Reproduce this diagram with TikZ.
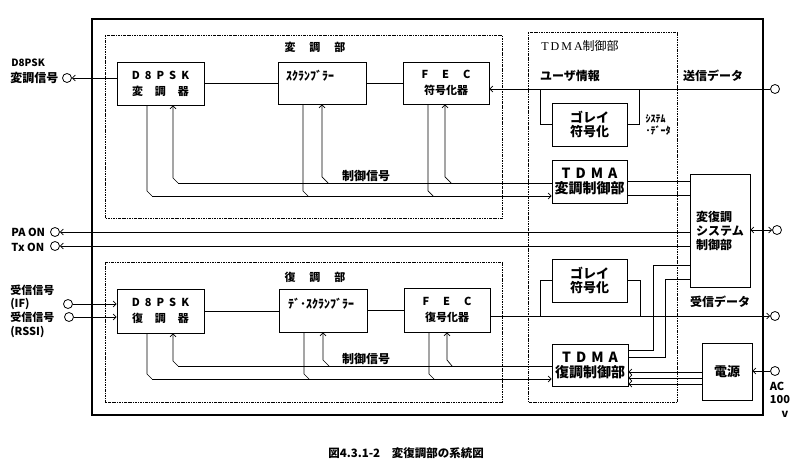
\documentclass[tikz,border=0pt]{standalone}
\usepackage{fontspec}
\setmainfont{Noto Sans CJK JP}
\newfontfamily\lserif{Liberation Serif}
\usetikzlibrary{arrows.meta}
\newcommand\ls{\hspace{5pt}}
\begin{document}
\begin{tikzpicture}[x=1pt,y=-1pt,line width=0.7pt,
  blk/.style={draw, line width=0.7pt, inner sep=0pt, align=center},
  frame/.style={draw, line width=0.6pt, dash pattern=on 2.5pt off 1pt on 0.8pt off 1pt},
  port/.style={circle, draw, line width=0.8pt, minimum size=9pt, inner sep=0pt},
  arr/.style={-{Straight Barb[length=3pt,width=6pt]}},
  arrb/.style={{Straight Barb[length=3pt,width=6pt]}-{Straight Barb[length=3pt,width=6pt]}},
  txt/.style={inner sep=0pt, font=\bfseries\fontsize{11}{13}\selectfont},
  bf11/.style={font=\bfseries\fontsize{11}{16}\selectfont},
  bf12/.style={font=\bfseries\fontsize{13}{14.5}\selectfont},
  bf14/.style={font=\bfseries\fontsize{14}{15}\selectfont},
]
\useasboundingbox (0,0) rectangle (800,465);

% outer frame and section frames
\draw[line width=2pt] (92,19) rectangle (763,415);
\draw[frame] (105,35) rectangle (502,218);
\draw[frame] (528,32) rectangle (677,402);
\draw[frame] (105,262) rectangle (502,402);

% modulation blocks
\node[blk, bf11, minimum width=87pt, minimum height=43pt] (mod) at (160.5,83.5) {D\ls 8\ls P\ls S\ls K\\変\hspace{12pt}調\hspace{12pt}器};
\node[blk, minimum width=88pt, minimum height=42pt] (scr) at (322,83) {};
\node[txt, font=\bfseries\fontsize{12}{14}\selectfont] (scrT) at (310,76) {ｽｸﾗﾝﾌﾞﾗｰ};
\node[blk, bf11, minimum width=86pt, minimum height=42pt] (fecE) at (446,83) {F\hspace{14pt}E\hspace{14pt}C\\符号化器};
\node[blk, bf12, minimum width=75pt, minimum height=43pt] (golayT) at (589.5,124.5) {ゴレイ\\符号化};
\node[blk, bf14, minimum width=75pt, minimum height=43pt] (tdmaM) at (589.5,181.5) {T\ls D\ls M\ls A\\変調制御部};
\node[blk, align=left, font=\bfseries\fontsize{12}{14}\selectfont, minimum width=60pt, minimum height=113pt] (sys) at (720,230.5) {変復調\\システム\\制御部};

% demodulation blocks
\node[blk, bf11, minimum width=87pt, minimum height=44pt] (demod) at (160.5,311) {D\ls 8\ls P\ls S\ls K\\復\hspace{12pt}調\hspace{12pt}器};
\node[blk, minimum width=88pt, minimum height=43pt] (dscr) at (323,310.5) {};
\node[txt, font=\bfseries\fontsize{12}{14}\selectfont] (dscrT) at (321,304) {ﾃﾞ･ｽｸﾗﾝﾌﾞﾗｰ};
\node[blk, bf11, minimum width=86pt, minimum height=44pt] (fecD) at (447,310) {F\hspace{14pt}E\hspace{14pt}C\\復号化器};
\node[blk, bf12, minimum width=75pt, minimum height=43pt] (golayR) at (589.5,280.5) {ゴレイ\\符号化};
\node[blk, bf14, minimum width=76pt, minimum height=42pt] (tdmaD) at (590,365) {T\ls D\ls M\ls A\\復調制御部};
\node[blk, bf12, minimum width=50pt, minimum height=57pt] (pwr) at (727,371.5) {電源};

% ports
\node[port] (pMs) at (67,78) {};
\node[port] (pPA) at (55,232) {};
\node[port] (pTx) at (55,246) {};
\node[port] (pIF) at (68,304) {};
\node[port] (pRSSI) at (69,317) {};
\node[port] (pSend) at (775,89) {};
\node[port] (pSys) at (777,230) {};
\node[port] (pRecv) at (775,316) {};
\node[port] (pAC) at (775,371) {};

% labels
\node[txt, font=\bfseries\fontsize{11}{13}\selectfont] (lMod) at (315,47) {変\hspace{14pt}調\hspace{14pt}部};
\node[txt, font=\bfseries\fontsize{12}{13}\selectfont] (lCtl1) at (366,176) {制御信号};
\node[txt, font=\fontsize{12}{13}\selectfont] (lTdma) at (580,46) {{\lserif T\,D\,M\,A}制御部};
\node[txt, font=\bfseries\fontsize{12}{13}\selectfont] (lUser) at (570,76) {ユーザ情報};
\node[txt, font=\bfseries\fontsize{12}{13}\selectfont] (lSend) at (713,76) {送信データ};
\node[txt, align=left, font=\bfseries\fontsize{10}{12}\selectfont] (lSysD) at (658,125) {ｼｽﾃﾑ\\･ﾃﾞｰﾀ};
\node[txt, font=\bfseries\fontsize{11}{13}\selectfont] (lDem) at (315,277) {復\hspace{14pt}調\hspace{14pt}部};
\node[txt, font=\bfseries\fontsize{12}{13}\selectfont] (lCtl2) at (366,359) {制御信号};
\node[txt, font=\bfseries\fontsize{12}{13}\selectfont] (lRecv) at (720,302) {受信データ};
\node[txt, anchor=west, font=\bfseries\fontsize{10}{11}\selectfont] (lD8) at (11,63) {D8PSK};
\node[txt, anchor=west, font=\bfseries\fontsize{12}{13}\selectfont] (lMs) at (10,78) {変調信号};
\node[txt, anchor=west, font=\bfseries\fontsize{11}{13}\selectfont] (lPA) at (11,232) {PA ON};
\node[txt, anchor=west, font=\bfseries\fontsize{11}{13}\selectfont] (lTx) at (11,247) {Tx ON};
\node[txt, anchor=west, font=\bfseries\fontsize{11}{13}\selectfont] (lR1) at (10,290) {受信信号};
\node[txt, anchor=west, font=\bfseries\fontsize{11}{13}\selectfont] (lIF) at (10,304) {(IF)};
\node[txt, anchor=west, font=\bfseries\fontsize{11}{13}\selectfont] (lR2) at (10,317) {受信信号};
\node[txt, anchor=west, font=\bfseries\fontsize{11}{13}\selectfont] (lRSSI) at (10,332) {(RSSI)};
\node[txt, font=\bfseries\fontsize{11}{13}\selectfont] (lAC) at (777,386) {AC};
\node[txt, font=\bfseries\fontsize{11}{13}\selectfont] (l100) at (780,400) {100};
\node[txt, font=\bfseries\fontsize{11}{13}\selectfont] (lV) at (785,414) {v};
\node[txt, font=\bfseries\fontsize{11.5}{13}\selectfont] (cap) at (406,453) {図4.3.1-2　変復調部の系統図};

% transmit chain
\draw[arr] ([yshift=5.5pt]mod.west) -- (pMs);
\draw (mod.east) -- (mod.east -| scr.west);
\draw (scr.east) -- (scr.east -| fecE.west);
\draw[arr] (pSend) -- (pSend -| fecE.east);
\coordinate (gt1) at (540,89);
\coordinate (gt2) at (639,89);
\draw (golayT.west) -| (gt1);
\draw (golayT.east) -| (gt2);

% modulation control buses
\draw ([yshift=-1.5pt]tdmaM.west) -- (178,183);
\draw[arr] (178,183) -- (173,178) -- ([xshift=12.5pt]mod.south);
\draw[arr] (328,183) -- (322,177) -- (scr.south);
\draw[arr] (451,183) -- (445,177) -- ([xshift=-1pt]fecE.south);
\draw[arr] (152,196) -- ([yshift=-14.5pt]tdmaM.west);
\draw ([xshift=-13.5pt]mod.south) -- (147,191) -- (152,196);
\draw ([xshift=-19pt]scr.south) -- (303,191) -- (308,196);
\draw ([xshift=-18pt]fecE.south) -- (428,191) -- (433,196);

% TDMA mod control to system control
\draw ([yshift=0.5pt]tdmaM.east) -- ([yshift=49.5pt]sys.west);
\draw ([yshift=-13.5pt]tdmaM.east) -- ([yshift=35.5pt]sys.west);
\draw[arr] ([yshift=-1.5pt]sys.west) -- (pPA);
\draw[arr] ([yshift=-15.5pt]sys.west) -- (pTx);
\draw[arrb] (pSys) -- (pSys -| sys.east);

% receive chain
\draw[arr] (pIF) -- (pIF -| demod.west);
\draw[arr] (pRSSI) -- (pRSSI -| demod.west);
\draw (demod.east) -- (demod.east -| dscr.west);
\draw (dscr.east) -- (dscr.east -| fecD.west);
\draw[arr] (fecD.east |- pRecv) -- (pRecv);
\coordinate (gr1) at (540,316);
\coordinate (gr2) at (640,316);
\draw (golayR.west) -| (gr1);
\draw (golayR.east) -| (gr2);

% demodulation control buses
\draw ([yshift=-1pt]tdmaD.west) -- (178,366);
\draw[arr] (178,366) -- (173,361) -- ([xshift=12.5pt]demod.south);
\draw[arr] (329,366) -- (323,360) -- (dscr.south);
\draw[arr] (452,366) -- (447,360) -- (fecD.south);
\draw[arr] (152,379) -- ([yshift=-14pt]tdmaD.west);
\draw ([xshift=-13.5pt]demod.south) -- (147,374) -- (152,379);
\draw ([xshift=-19pt]dscr.south) -- (304,374) -- (309,379);
\draw ([xshift=-18pt]fecD.south) -- (429,374) -- (434,379);

% TDMA demod control to system control
\draw ([yshift=15pt]tdmaD.east) -- (653,350) -- (653,265) -- ([yshift=-34.5pt]sys.west);
\draw ([yshift=8pt]tdmaD.east) -- (665,357) -- (665,279) -- ([yshift=-48.5pt]sys.west);

% power
\draw[arr] ([yshift=-0.5pt]pwr.west) -- ([yshift=-7pt]tdmaD.east);
\draw[arr] ([yshift=-6.5pt]pwr.west) -- ([yshift=-13pt]tdmaD.east);
\draw[arr] ([yshift=-12.5pt]pwr.west) -- ([yshift=-19pt]tdmaD.east);
\draw[arr] (pAC) -- (pAC -| pwr.east);
\end{tikzpicture}
\end{document}
